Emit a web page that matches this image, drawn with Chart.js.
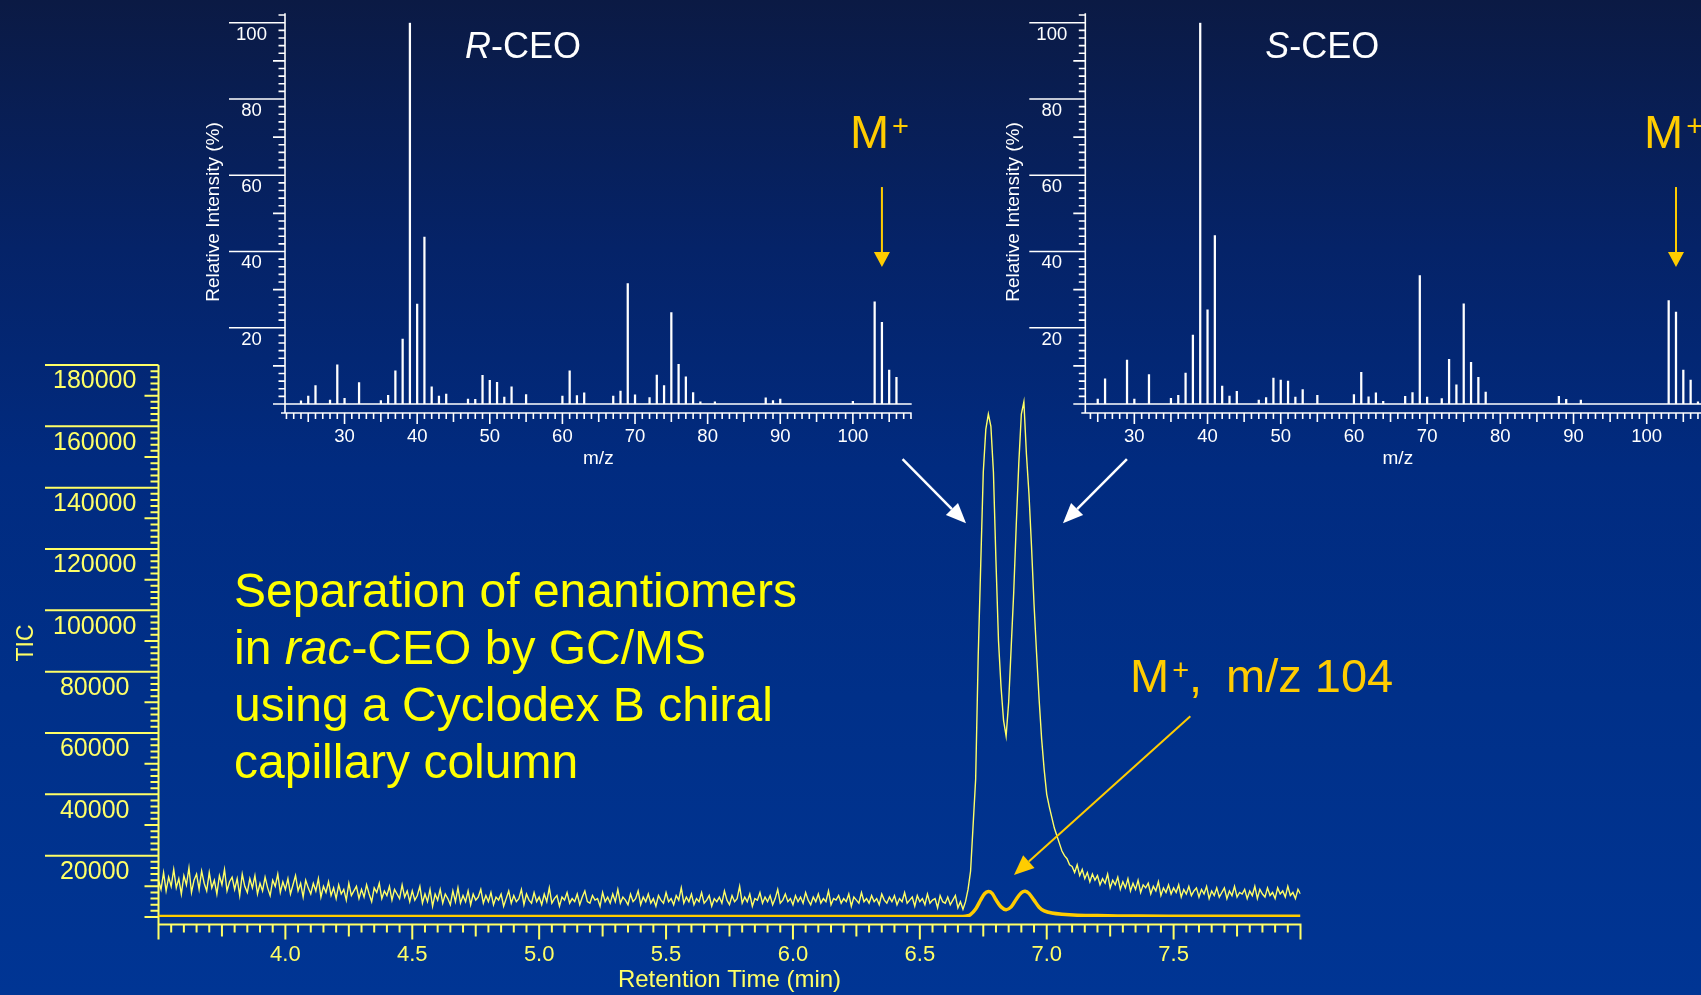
<!DOCTYPE html>
<html>
<head>
<meta charset="utf-8">
<title>Separation of enantiomers in rac-CEO by GC/MS</title>
<script src="https://cdn.jsdelivr.net/npm/chart.js@4.4.1/dist/chart.umd.min.js"></script>
<style>
  html, body { margin: 0; padding: 0; }
  body {
    width: 1701px; height: 995px; overflow: hidden; position: relative;
    background: linear-gradient(to bottom, #0b1a44 0%, #052368 25%, #012b80 47%, #003089 70%, #003594 100%);
  }
  canvas { position: absolute; top: 0; }
  #tic { left: 0; }
  #specR { left: 0; }
  #specS { left: 800px; }
</style>
</head>
<body>
<canvas id="tic" width="1701" height="995"></canvas>
<canvas id="specR" width="960" height="480"></canvas>
<canvas id="specS" width="960" height="480"></canvas>
<script>
// TIC trace, one scan every 0.01 min from 3.50 to 8.00 min
const ticStart = 3.5;
const ticStep = 0.01;
const ticValues = [
  12000, 9000, 14500, 8500, 13000, 10000, 15500, 9500, 12500, 7500,
  13500, 10500, 16000, 8000, 12000, 14000, 9000, 15000, 11000, 8500,
  14500, 9500, 12000, 7500, 13500, 10500, 15500, 8500, 11500, 13000,
  9000, 12500, 7000, 14000, 10000, 8000, 12500, 9500, 13500, 7500,
  11000, 8500, 13000, 9500, 7000, 12000, 10000, 14000, 8000, 11500,
  9000, 12500, 7500, 10500, 13500, 8500, 11000, 6500, 12000, 9500,
  7500, 11000, 8500, 12500, 6500, 10000, 8000, 11500, 7000, 9500,
  6000, 10500, 7500, 9000, 5500, 11000, 7000, 8500, 10000, 6000,
  9000, 6500, 10500, 7500, 5000, 9500, 8000, 11000, 6000, 8500,
  7000, 10000, 5500, 9000, 7500, 6000, 10500, 6500, 8500, 5000,
  8500, 5500, 7000, 10000, 4500, 7500, 5000, 9000, 3500, 7500,
  5500, 9000, 4500, 7500, 6000, 4000, 8500, 5000, 9500, 4500,
  7000, 5000, 8500, 4000, 7500, 5500, 6500, 9000, 4500, 7000,
  5000, 8000, 4000, 6500, 5500, 7500, 3500, 6000, 8500, 4500,
  7000, 5000, 6000, 9000, 4000, 7500, 5500, 4500, 8000, 5000,
  6500, 4000, 7500, 5000, 9500, 4500, 6000, 7000, 3500, 6500,
  5500, 8000, 4500, 6000, 5000, 7500, 4000, 6500, 8500, 5000,
  4500, 7000, 5500, 6000, 3500, 8000, 5000, 6500, 4500, 7500,
  5000, 9000, 4500, 6500, 5500, 4000, 7500, 5000, 6000, 8500,
  4000, 6500, 5000, 7500, 4500, 6000, 3500, 7000, 5500, 4500,
  8000, 5000, 6000, 4000, 7000, 5500, 9500, 4500, 6500, 5000,
  7500, 4000, 6000, 5000, 8000, 4500, 5500, 7000, 3500, 6000,
  5000, 6500, 4500, 8500, 5500, 4000, 7000, 5000, 6000, 10000,
  4500, 6500, 5000, 7500, 3500, 6000, 5500, 8000, 4500, 6500,
  5000, 7000, 4000, 6000, 9000, 4500, 5500, 7500, 5000, 6000,
  4000, 7000, 5000, 6500, 4500, 8000, 5500, 4000, 6500, 5000,
  7500, 4500, 6000, 5000, 8500, 4000, 6000, 5500, 7000, 4500,
  6000, 5000, 7500, 3500, 6500, 5500, 4500, 8000, 5000, 6000,
  4500, 7000, 5000, 6000, 4000, 7500, 5500, 4500, 6500, 5000,
  7000, 4000, 6000, 5000, 8000, 4500, 5500, 6500, 3500, 7000,
  5000, 6000, 4000, 7500, 4500, 5500, 6000, 3000, 7000, 5000,
  4500, 6500, 4000, 5500, 7000, 3000, 5000, 2500, 5000, 9000,
  15000, 30000, 45000, 85000, 115000, 145000, 159000, 164000, 160000, 145000,
  116000, 90000, 75000, 64000, 59000, 70000, 88000, 106000, 128000, 148000,
  164000, 168000, 151000, 138000, 121000, 102000, 86000, 71000, 58000, 48000,
  40000, 36000, 32500, 29000, 26500, 24000, 21500, 20000, 19000, 17000,
  16500, 14500, 17000, 13500, 15500, 12500, 14500, 11500, 14000, 12000,
  13500, 10500, 12500, 11000, 14000, 9500, 12000, 10500, 13000, 9000,
  11500, 9500, 12500, 8500, 11000, 9000, 12000, 8000, 10500, 9500,
  11000, 7500, 10000, 8500, 11500, 7000, 9500, 8000, 10500, 7500,
  9500, 8000, 10500, 6500, 9000, 7500, 10000, 7000, 8500, 9500,
  6500, 9000, 7500, 10000, 6000, 8500, 7000, 9500, 6500, 8000,
  9500, 6000, 8500, 7000, 10000, 6500, 8000, 7500, 9000, 6000,
  8500, 7000, 10000, 6000, 9000, 7500, 6500, 9500, 7000, 8000,
  6000, 9500, 7500, 8500, 6500, 10000, 7000, 8000, 6000, 9000,
  7500
];

// extracted ion trace for M+ (m/z 104)
const mzTimes = [3.5, 4.5, 5.5, 6.5, 6.67, 6.69, 6.70, 6.72, 6.74, 6.755, 6.77, 6.785, 6.80, 6.82, 6.84,
  6.86, 6.88, 6.90, 6.915, 6.93, 6.95, 6.97, 6.99, 7.02, 7.06, 7.12, 7.2, 7.36, 7.6, 8.0];
const mzValues = [150, 150, 150, 150, 150, 400, 800, 2600, 5600, 7600, 8300, 7700, 5600, 3300, 2400,
  3300, 5800, 7900, 8400, 7700, 5500, 3200, 2000, 1300, 900, 600, 450, 300, 250, 250];

const timeTicks = [4.0, 4.5, 5.0, 5.5, 6.0, 6.5, 7.0, 7.5];
const ticTicks = [20000, 40000, 60000, 80000, 100000, 120000, 140000, 160000, 180000];

// mass spectra (relative intensity, %)
const rMz = [24, 25, 26, 28, 29, 30, 32, 35, 36, 37, 38, 39, 40, 41, 42, 43, 44, 47, 48, 49,
  50, 51, 52, 53, 55, 60, 61, 62, 63, 67, 68, 69, 70, 72, 73, 74, 75, 76, 77, 78,
  79, 81, 88, 89, 90, 100, 103, 104, 105, 106];
const rInt = [0.8, 2.1, 4.8, 1.0, 10.3, 1.5, 5.6, 0.9, 2.3, 8.7, 17, 100, 26.2, 43.8, 4.5, 2.1, 2.6, 1.3, 1.2, 7.5,
  6.2, 5.7, 1.8, 4.5, 2.5, 2.1, 8.7, 2.2, 2.9, 2.1, 3.4, 31.6, 2.4, 1.7, 7.6, 4.8, 24, 10.4, 7.1, 3.0,
  0.6, 0.6, 1.6, 0.9, 1.3, 0.7, 26.8, 21.4, 8.9, 7.0];
const sMz = [25, 26, 29, 30, 32, 35, 36, 37, 38, 39, 40, 41, 42, 43, 44, 47, 48, 49, 50, 51,
  52, 53, 55, 60, 61, 62, 63, 64, 67, 68, 69, 70, 72, 73, 74, 75, 76, 77, 78, 88,
  89, 91, 103, 104, 105, 106, 107];
const sInt = [1.3, 6.6, 11.5, 1.3, 7.7, 1.5, 2.3, 8.1, 18.1, 100, 24.7, 44.2, 4.7, 2.1, 3.3, 1.0, 1.7, 6.8, 6.3, 6.0,
  1.8, 3.8, 2.3, 2.5, 8.3, 1.9, 2.9, 0.7, 2.0, 3.0, 33.7, 1.8, 1.4, 11.7, 5.0, 26.3, 10.9, 7.0, 3.1, 2.0,
  1.2, 1.0, 27.1, 24.1, 8.9, 6.3, 0.6];
const mzTicks = [30, 40, 50, 60, 70, 80, 90, 100];
const moleculeIon = 104;

const FONT = '"Liberation Sans", Arial, Helvetica, sans-serif';
const AXIS_YELLOW = '#ffff66';
const GOLD = '#ffcc00';

function drawArrow(ctx, x1, y1, x2, y2, color, width, headLen, headW) {
    const ang = Math.atan2(y2 - y1, x2 - x1);
    const bx = x2 - headLen * Math.cos(ang);
    const by = y2 - headLen * Math.sin(ang);
    ctx.strokeStyle = color;
    ctx.fillStyle = color;
    ctx.lineWidth = width;
    ctx.beginPath();
    ctx.moveTo(x1, y1);
    ctx.lineTo(bx, by);
    ctx.stroke();
    ctx.beginPath();
    ctx.moveTo(x2, y2);
    ctx.lineTo(bx + headW / 2 * Math.sin(ang), by - headW / 2 * Math.cos(ang));
    ctx.lineTo(bx - headW / 2 * Math.sin(ang), by + headW / 2 * Math.cos(ang));
    ctx.closePath();
    ctx.fill();
}

// text made of plain / italic pieces
function drawRuns(ctx, runs, x, y, size) {
    ctx.textAlign = 'left';
    for (const [text, italic] of runs) {
        ctx.font = (italic ? 'italic ' : '') + size + 'px ' + FONT;
        ctx.fillText(text, x, y);
        x += ctx.measureText(text).width;
    }
}

function drawMPlus(ctx, x, y, size) {
    ctx.textAlign = 'left';
    ctx.font = size + 'px ' + FONT;
    ctx.fillText('M', x, y);
    const w = ctx.measureText('M').width;
    ctx.font = Math.round(size * 0.62) + 'px ' + FONT;
    ctx.fillText('+', x + w + 3, y - 12);
    return x + w + 3 + ctx.measureText('+').width;
}

const ticAxes = {
    id: 'ticAxes',
    beforeDatasetsDraw(chart) {
        const { ctx, scales: { x, y } } = chart;
        const x0 = x.getPixelForValue(x.min);
        const x1 = x.getPixelForValue(x.max);
        const yTop = y.getPixelForValue(y.max);
        const axisY = y.getPixelForValue(0) + 7.5;
        ctx.save();
        ctx.strokeStyle = AXIS_YELLOW;
        ctx.fillStyle = AXIS_YELLOW;
        ctx.lineWidth = 2;
        ctx.beginPath();
        ctx.moveTo(x0, yTop);
        ctx.lineTo(x0, axisY + 1);
        ctx.moveTo(x0 - 1, axisY);
        ctx.lineTo(x1 + 1, axisY);

        // y ticks every 2000
        for (let i = 0; i <= 90; i++) {
            const v = i * 2000;
            const py = y.getPixelForValue(v);
            let len = 8;
            if (v > 0 && v % 20000 === 0) len = x0 - 45;
            else if (v % 10000 === 0) len = 14;
            ctx.moveTo(x0 - len, py);
            ctx.lineTo(x0, py);
        }
        // x ticks every 0.05 min
        for (let i = 0; i <= 90; i++) {
            const px = x.getPixelForValue(x.min + i * 0.05);
            const len = i % 10 === 0 ? 15 : (i % 5 === 0 ? 12 : 8);
            ctx.moveTo(px, axisY);
            ctx.lineTo(px, axisY + len);
        }
        ctx.stroke();

        ctx.textAlign = 'center';
        ctx.font = '25px ' + FONT;
        for (const v of ticTicks) {
            ctx.fillText(String(v), 94.7, y.getPixelForValue(v) + 23.3);
        }
        ctx.font = '22px ' + FONT;
        for (const t of timeTicks) {
            ctx.fillText(t.toFixed(1), x.getPixelForValue(t), 960.7);
        }
        ctx.font = '24px ' + FONT;
        ctx.fillText('Retention Time (min)', (x0 + x1) / 2, 987);

        ctx.translate(33, 643);
        ctx.rotate(-Math.PI / 2);
        ctx.font = '23px ' + FONT;
        ctx.fillText('TIC', 0, 0);
        ctx.restore();
    }
};

const ticNotes = {
    id: 'ticNotes',
    afterDraw(chart) {
        const { ctx, scales: { x, y } } = chart;
        const px = (t) => x.getPixelForValue(t);
        const py = (v) => y.getPixelForValue(v);
        ctx.save();
        // white arrows from the spectra to the two peaks
        drawArrow(ctx, px(6.432), py(149300), px(6.682), py(128400), '#ffffff', 2.5, 20, 17);
        drawArrow(ctx, px(7.316), py(149300), px(7.064), py(128400), '#ffffff', 2.5, 20, 17);
        // gold arrow to the m/z 104 trace
        drawArrow(ctx, px(7.566), py(65500), px(6.871), py(13700), GOLD, 2, 20, 17);

        ctx.fillStyle = GOLD;
        const after = drawMPlus(ctx, 1130, 692, 47);
        ctx.font = '47px ' + FONT;
        ctx.fillText(',', after, 692);
        ctx.fillText('m/z 104', 1226, 692);

        ctx.fillStyle = '#ffff00';
        const lines = [
            [['Separation of enantiomers', false]],
            [['in ', false], ['rac', true], ['-CEO by GC/MS', false]],
            [['using a Cyclodex B chiral', false]],
            [['capillary column', false]]
        ];
        lines.forEach((runs, i) => drawRuns(ctx, runs, 234, 606.7 + i * 57, 48));
        ctx.restore();
    }
};

new Chart(document.getElementById('tic'), {
    type: 'line',
    data: {
        datasets: [
            {
                label: 'TIC',
                data: ticValues.map((v, i) => ({ x: ticStart + i * ticStep, y: v })),
                borderColor: AXIS_YELLOW,
                borderWidth: 1.4,
                pointRadius: 0,
                tension: 0
            },
            {
                label: 'm/z 104',
                data: mzTimes.map((t, i) => ({ x: t, y: mzValues[i] })),
                borderColor: GOLD,
                borderWidth: 3.5,
                pointRadius: 0,
                tension: 0.3
            }
        ]
    },
    options: {
        responsive: false,
        animation: false,
        events: [],
        layout: { padding: { left: 158.5, right: 400.5, top: 365, bottom: 78 } },
        scales: {
            x: { type: 'linear', min: 3.5, max: 8, display: false },
            y: { min: 0, max: 180000, display: false }
        },
        plugins: { legend: { display: false }, tooltip: { enabled: false } }
    },
    plugins: [ticAxes, ticNotes]
});

const specAxes = {
    id: 'specAxes',
    beforeDatasetsDraw(chart, args, opts) {
        const { ctx, scales: { x, y } } = chart;
        const left = x.getPixelForValue(x.min);
        const right = x.getPixelForValue(x.max);
        const base = y.getPixelForValue(0);
        const top = y.getPixelForValue(102.5);
        const axisY = base + 9;
        ctx.save();
        ctx.strokeStyle = '#ffffff';
        ctx.fillStyle = '#ffffff';
        ctx.lineWidth = 1.6;
        ctx.beginPath();
        ctx.moveTo(left, top);
        ctx.lineTo(left, axisY);
        ctx.moveTo(left - 12, base);
        ctx.lineTo(right, base);
        ctx.moveTo(left - 4, axisY);
        ctx.lineTo(right, axisY);
        for (let i = 1; i <= 51; i++) {
            const v = i * 2;
            const len = v % 20 === 0 ? 56 : (v % 10 === 0 ? 12 : 6.5);
            const py = y.getPixelForValue(v);
            ctx.moveTo(left - len, py);
            ctx.lineTo(left, py);
        }
        for (let m = Math.ceil(x.min); m <= Math.floor(x.max); m++) {
            const len = m % 10 === 0 ? 11 : (m % 5 === 0 ? 9 : 6);
            const px = x.getPixelForValue(m);
            ctx.moveTo(px, axisY);
            ctx.lineTo(px, axisY + len);
        }
        ctx.stroke();

        ctx.textAlign = 'center';
        ctx.font = '18.5px ' + FONT;
        for (const v of [20, 40, 60, 80, 100]) {
            ctx.fillText(String(v), left - 33.5, y.getPixelForValue(v) + 17);
        }
        for (const m of mzTicks) {
            ctx.fillText(String(m), x.getPixelForValue(m), axisY + 28.7);
        }
        ctx.font = '19px ' + FONT;
        ctx.fillText('m/z', (left + right) / 2, 463.5);
        ctx.save();
        ctx.translate(left - 66.5, 212);
        ctx.rotate(-Math.PI / 2);
        ctx.fillText('Relative Intensity (%)', 0, 0);
        ctx.restore();

        // title
        drawRuns(ctx, [[opts.letter, true], ['-CEO', false]], left + 180, 58, 36);

        // molecular ion marker
        const ax = x.getPixelForValue(moleculeIon);
        drawArrow(ctx, ax, y.getPixelForValue(56.9), ax, y.getPixelForValue(35.9), GOLD, 2, 15, 16);
        ctx.fillStyle = GOLD;
        drawMPlus(ctx, ax - 32, 148, 47);
        ctx.restore();
    }
};

function spectrum(id, mz, intensity, xMin, xMax, padLeft, padRight, letter) {
    return new Chart(document.getElementById(id), {
        type: 'bar',
        data: {
            datasets: [{
                label: letter + '-CEO',
                data: mz.map((m, i) => ({ x: m, y: intensity[i] })),
                backgroundColor: '#ffffff',
                borderWidth: 0,
                barThickness: 1.6
            }]
        },
        options: {
            responsive: false,
            animation: false,
            events: [],
            layout: { padding: { left: padLeft, right: padRight, top: 22.7, bottom: 76 } },
            scales: {
                x: { type: 'linear', min: xMin, max: xMax, offset: false, display: false },
                y: { min: 0, max: 100, display: false }
            },
            plugins: {
                legend: { display: false },
                tooltip: { enabled: false },
                specAxes: { letter: letter }
            }
        },
        plugins: [specAxes]
    });
}

spectrum('specR', rMz, rInt, 21.8, 108.1, 285, 48.3, 'R');
spectrum('specS', sMz, sInt, 23.3, 108.7, 285.3, 49.6, 'S');
</script>
</body>
</html>
